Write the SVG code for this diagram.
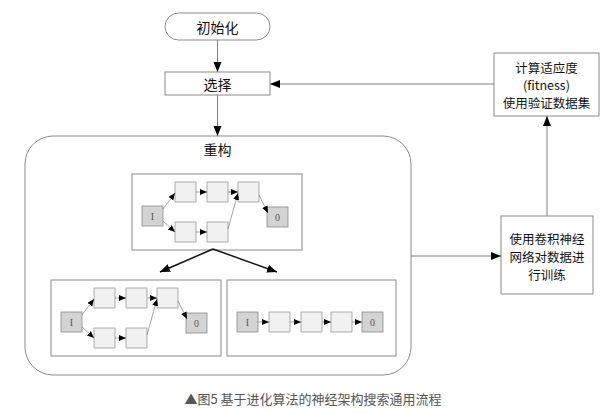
<svg xmlns="http://www.w3.org/2000/svg" width="613" height="414" viewBox="0 0 613 414">
<style>
.box{fill:#fff;stroke:#8a8a8a;stroke-width:1}
.lbl{font-family:"Noto Sans CJK SC","Liberation Sans",sans-serif;font-size:14px;fill:#111;text-anchor:middle;dominant-baseline:central}
.lbl13{font-family:"Noto Sans CJK SC","Liberation Sans",sans-serif;font-size:12.5px;fill:#111;text-anchor:middle;dominant-baseline:central}
.n{fill:#f1f1f1;stroke:#9a9a9a;stroke-width:0.8}
.io{fill:#d3d3d3;stroke:#8a8a8a;stroke-width:0.8}
.iot{font-family:"Liberation Serif",serif;font-size:10px;fill:#555;text-anchor:middle;dominant-baseline:central}
.c{fill:none;stroke:#808080;stroke-width:1}
.cs{fill:none;stroke:#666;stroke-width:0.6}
.cb{fill:none;stroke:#111;stroke-width:1.5}
.cap{font-family:"Noto Sans CJK SC","Liberation Sans",sans-serif;font-size:13px;fill:#555;text-anchor:middle;dominant-baseline:central}
</style>
<defs>
<marker id="ah" markerUnits="userSpaceOnUse" markerWidth="11" markerHeight="9" refX="10" refY="4" orient="auto"><path d="M0,0 L10,4 L0,8 z" fill="#000"/></marker>
<marker id="as" markerUnits="userSpaceOnUse" markerWidth="8" markerHeight="7" refX="7" refY="3" orient="auto"><path d="M0,0 L7,3 L0,6 z" fill="#000"/></marker>
</defs>
<rect width="613" height="414" fill="#fff"/>

<g id="start"><rect class="box" x="165" y="13" width="105" height="27" rx="13.5"/><text class="lbl" x="217.5" y="26.5">初始化</text></g>
<g id="select"><rect class="box" x="165" y="72" width="105" height="23"/><text class="lbl" x="217.5" y="83.5">选择</text></g>
<g id="rebuild"><rect class="box" x="25" y="136" width="386" height="239" rx="28"/><text class="lbl" x="217.5" y="149">重构</text></g>

<g id="net-top">
<rect class="box" x="132" y="174" width="170" height="76"/>
<rect class="io" x="142" y="206" width="21" height="20"/><text class="iot" x="152.5" y="216">I</text>
<rect class="n" x="175" y="182" width="21" height="20"/>
<rect class="n" x="207" y="182" width="21" height="20"/>
<rect class="n" x="238" y="182" width="21" height="20"/>
<rect class="n" x="175" y="222" width="21" height="20"/>
<rect class="n" x="207" y="222" width="21" height="20"/>
<rect class="io" x="267" y="207" width="21" height="20"/><text class="iot" x="277.5" y="217">0</text>
<g class="edges">
<path class="cs" d="M163,209 L175,193" marker-end="url(#as)"/>
<path class="cs" d="M163,221 L175,232" marker-end="url(#as)"/>
<path class="cs" d="M196,192 L207,192" marker-end="url(#as)"/>
<path class="cs" d="M228,192 L238,192" marker-end="url(#as)"/>
<path class="cs" d="M196,232 L207,232" marker-end="url(#as)"/>
<path class="cs" d="M228,229 L238,193" marker-end="url(#as)"/>
<path class="cs" d="M259,195 L268,213" marker-end="url(#as)"/>
</g>
</g>

<g id="net-left" transform="translate(-81,106)">
<rect class="box" x="132" y="174" width="170" height="76"/>
<rect class="io" x="142" y="206" width="21" height="20"/><text class="iot" x="152.5" y="216">I</text>
<rect class="n" x="175" y="182" width="21" height="20"/>
<rect class="n" x="207" y="182" width="21" height="20"/>
<rect class="n" x="238" y="182" width="21" height="20"/>
<rect class="n" x="175" y="222" width="21" height="20"/>
<rect class="n" x="207" y="222" width="21" height="20"/>
<rect class="io" x="267" y="207" width="21" height="20"/><text class="iot" x="277.5" y="217">0</text>
<g class="edges">
<path class="cs" d="M163,209 L175,193" marker-end="url(#as)"/>
<path class="cs" d="M163,221 L175,232" marker-end="url(#as)"/>
<path class="cs" d="M196,192 L207,192" marker-end="url(#as)"/>
<path class="cs" d="M228,192 L238,192" marker-end="url(#as)"/>
<path class="cs" d="M196,232 L207,232" marker-end="url(#as)"/>
<path class="cs" d="M228,229 L238,193" marker-end="url(#as)"/>
<path class="cs" d="M259,195 L268,213" marker-end="url(#as)"/>
</g>
</g>

<g id="net-right">
<rect class="box" x="227" y="280" width="169" height="76"/>
<rect class="io" x="237" y="312" width="21" height="20"/><text class="iot" x="247.5" y="322">I</text>
<rect class="n" x="269" y="312" width="21" height="20"/>
<rect class="n" x="301" y="312" width="21" height="20"/>
<rect class="n" x="331" y="312" width="21" height="20"/>
<rect class="io" x="362" y="312" width="21" height="20"/><text class="iot" x="372.5" y="322">0</text>
<g class="edges">
<path class="cs" d="M258,322 L269,322" marker-end="url(#as)"/>
<path class="cs" d="M290,322 L301,322" marker-end="url(#as)"/>
<path class="cs" d="M322,322 L331,322" marker-end="url(#as)"/>
<path class="cs" d="M352,322 L362,322" marker-end="url(#as)"/>
</g>
</g>

<g id="train"><rect class="box" x="501" y="216" width="92" height="78"/>
<text class="lbl13" x="547" y="238">使用卷积神经</text>
<text class="lbl13" x="547" y="256">网络对数据进</text>
<text class="lbl13" x="547" y="274">行训练</text></g>

<g id="fitness"><rect class="box" x="494" y="53" width="105" height="63"/>
<text class="lbl13" x="546.5" y="67">计算适应度</text>
<text class="lbl13" x="546.5" y="84.5" font-family="Liberation Sans, sans-serif">(fitness)</text>
<text class="lbl13" x="546.5" y="102">使用验证数据集</text></g>

<g id="connectors">
<path class="c" d="M217.5,40 L217.5,72" marker-end="url(#ah)"/>
<path class="c" d="M217.5,95 L217.5,136" marker-end="url(#ah)"/>
<path class="c" d="M411,256 L501,256" marker-end="url(#ah)"/>
<path class="c" d="M547,216 L547,116" marker-end="url(#ah)"/>
<path class="c" d="M494,84 L270,84" marker-end="url(#ah)"/>
<path class="cb" d="M213,249 L160,272" marker-end="url(#ah)"/>
<path class="cb" d="M213,249 L277,272" marker-end="url(#ah)"/>
</g>

<text class="cap" x="313" y="398">▲图5 基于进化算法的神经架构搜索通用流程</text>
</svg>
